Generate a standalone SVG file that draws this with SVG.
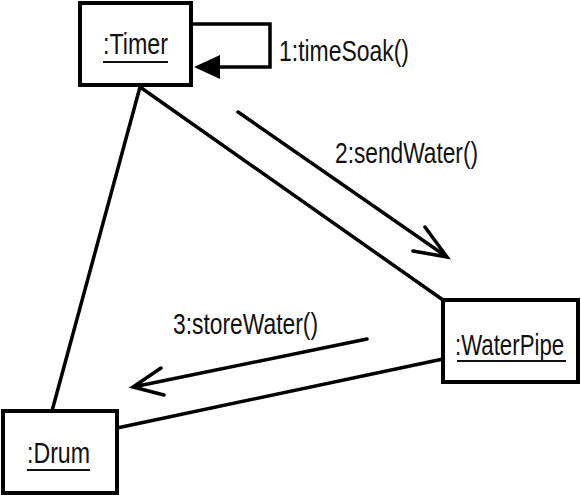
<svg xmlns="http://www.w3.org/2000/svg" width="581" height="498" viewBox="0 0 581 498">
<defs>
<style>
.box{fill:#fff;stroke:#000;stroke-width:4}
.ln{fill:none;stroke:#000;stroke-width:3.5;stroke-linecap:round;stroke-linejoin:miter}
.t{font-family:"Liberation Sans",Arial,sans-serif;font-size:29px;fill:#111}
.u{stroke:#111;stroke-width:2}
</style>
</defs>
<rect width="581" height="498" fill="#fff"/>
<g id="connectors">
<line class="ln" x1="140" y1="87" x2="443" y2="300"/>
<line class="ln" x1="140" y1="87" x2="52" y2="411"/>
<line class="ln" x1="443" y1="359" x2="117" y2="428"/>
<path class="ln" d="M193,24 H270 V67 H215"/>
<polygon points="194,67 220,55 220,79" fill="#000"/>
<path class="ln" d="M238,112 L447,257 M425,227 L447,257 L413,251"/>
<path class="ln" d="M367,339 L133,387 M161,368 L133,387 L164,395"/>
<text class="t" x="279" y="61" textLength="130" lengthAdjust="spacingAndGlyphs">1:timeSoak()</text>
<text class="t" x="335" y="163" textLength="143" lengthAdjust="spacingAndGlyphs">2:sendWater()</text>
<text class="t" x="173" y="334" textLength="145" lengthAdjust="spacingAndGlyphs">3:storeWater()</text>
</g>
<g id="timer">
<rect class="box" x="80" y="3" width="111" height="82"/>
<text class="t" x="103" y="54" textLength="65" lengthAdjust="spacingAndGlyphs">:Timer</text>
<line class="u" x1="103" y1="62" x2="168" y2="62"/>
</g>
<g id="waterpipe">
<rect class="box" x="443" y="300" width="135" height="82"/>
<text class="t" transform="translate(455,355) scale(0.767,1)">:WaterPipe</text>
<line class="u" x1="457" y1="361" x2="566" y2="361"/>
</g>
<g id="drum">
<rect class="box" x="3" y="411" width="114" height="82"/>
<text class="t" x="27" y="463" textLength="63" lengthAdjust="spacingAndGlyphs">:Drum</text>
<line class="u" x1="27" y1="470" x2="90" y2="470"/>
</g>
</svg>
